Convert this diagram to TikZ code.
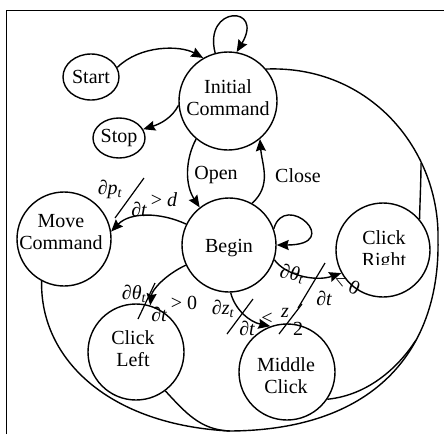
\documentclass[tikz,border=0pt]{standalone}
\usepackage{fontspec}
\setmainfont{Liberation Serif}
\usetikzlibrary{arrows.meta,shapes.geometric}
\tikzset{
  stnode/.style={circle, draw, minimum size=#1, inner sep=0pt},
  oval/.style={ellipse, draw, inner sep=0pt},
  txt/.style={align=center, inner sep=0pt},
  lbl/.style={inner sep=0pt},
  arr/.style={-{Stealth[length=12pt,width=10pt,inset=1.5pt]}},
  slash/.style={line width=1.2pt},
  frame/.style={line width=1.5pt}
}
\begin{document}
\begin{tikzpicture}[x=1pt, y=-1pt, line width=1.4pt,
  font=\fontsize{20}{22}\selectfont]
\useasboundingbox (0,0) rectangle (444,434);

% outer frame (left and top edges)
\draw[frame] (6.5,434) -- (6.5,10.5) -- (444,10.5);

% states
\node[oval, minimum width=56pt, minimum height=46pt] (start) at (91,77) {Start};
\node[oval, minimum width=52pt, minimum height=40pt] (stop) at (119,138) {Stop};
\node[stnode=98pt] (init) at (228,101) {};
\node[stnode=94pt] (begin) at (229,245) {};
\node[stnode=94pt] (move) at (64,239) {};
\node[stnode=94pt] (cright) at (383,250) {};
\node[stnode=96pt] (cleft) at (136,352) {};
\node[stnode=96pt] (middle) at (287,372) {};

% state texts
\node[txt] (inittxt) at (228,98) {Initial\\Command};
\node[txt] (begintxt) at (229,248) {Begin};
\node[txt] (movetxt) at (61,232) {Move\\Command};
\node[txt] (clefttxt) at (133,349) {Click\\Left};
\node[txt] (middletxt) at (286,376) {Middle\\Click};
\begin{scope}
  \clip (330,200) rectangle (440,264);
  \node[txt] (crighttxt) at (384,251) {Click\\Right};
\end{scope}

% transitions
\draw[arr] (start.20) .. controls (140,45) and (180,45) .. (init.120);
\draw[arr] (init.105) .. controls (203,5) and (265,5) .. (init.80);
\draw[arr] (init.185) .. controls (172,118) and (160,124) .. (stop.20);
\draw[arr] (init.230) .. controls (185,160) and (185,185) .. (begin.128);
\draw[arr] (begin.61) .. controls (272,185) and (262,165) .. (init.310);
\draw[arr] (begin.154) .. controls (160,212) and (130,212) .. (move.9);
\draw[arr] (begin.20) .. controls (285,190) and (345,245) .. (begin.0);
\draw[arr] (begin.342) .. controls (285,275) and (315,282) .. (cright.209);
\draw[arr] (begin.272) .. controls (235,310) and (250,322) .. (middle.110);
\draw[arr] (begin.205) .. controls (165,275) and (152,290) .. (cleft.73);

\node[lbl] (opentxt) at (216,175) {Open};
\node[lbl] (closetxt) at (298,176) {Close};

% return paths to the initial command
\coordinate (jl) at (230,431);
\coordinate (jm) at (416,340);
\coordinate (jr) at (421,163);
\coordinate (jb) at (438,240);
\draw (move.242) .. controls (40,360) and (110,425) .. (jl)
      .. controls (380,430) and (440,345) .. (jb)
      .. controls (440,150) and (370,65) .. (init.40);
\draw (cleft.307) .. controls (185,412) and (200,430) .. (jl);
\draw (middle.326) .. controls (370,395) and (400,365) .. (jm);
\draw (cright.40) .. controls (420,200) and (421,180) .. (jr);

% guard labels
\node[lbl] (mvnum) at (110,189) {\itshape ∂p\textsubscript{t}};
\draw[slash] (115,218) -- (144,178);
\node[lbl] (mvden) at (139,209) {\itshape ∂t};
\node[lbl] (mvcmp) at (164,200) {> \itshape d};

\node[lbl] (clnum) at (134,294) {\itshape ∂θ\textsubscript{t}};
\draw[slash] (138,319) -- (155,283);
\node[lbl] (clden) at (159,314) {\itshape ∂t};
\node[lbl] (clcmp) at (184,303) {> 0};

\node[lbl] (mdnum) at (223,309) {\itshape ∂z\textsubscript{t}};
\draw[slash] (227,334) -- (253,299);
\node[lbl] (mdden) at (247,328) {\itshape ∂t};
\node[lbl] (mdlt) at (267,319) {<};
\node[lbl] (mdz) at (285,313) {\itshape z};
\draw[slash] (279,334) -- (302,304);
\node[lbl] (mdtwo) at (298,329) {2};

\node[lbl, rotate=-10] (crnum) at (292,274) {\itshape ∂θ\textsubscript{t}};
\draw[slash] (298,308) -- (325,263);
\node[lbl] (crden) at (324,298) {\itshape ∂t};
\node[lbl, rotate=-25] (crcmp) at (347,284) {< 0};
\end{tikzpicture}
\end{document}
